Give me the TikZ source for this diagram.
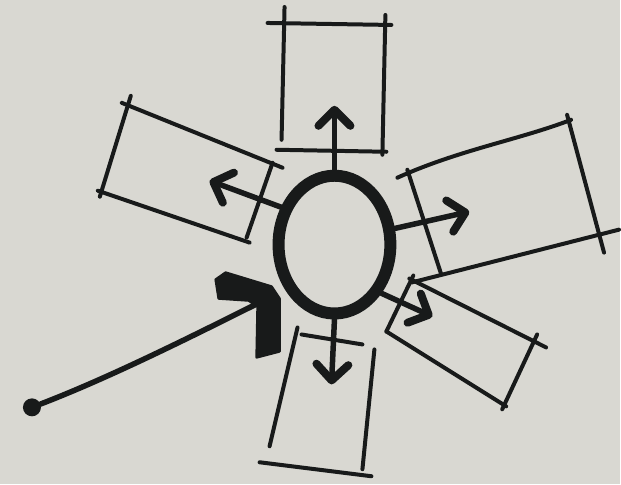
\documentclass[tikz,border=0pt]{standalone}
\usetikzlibrary{arrows.meta,shapes.geometric}
\definecolor{paper}{RGB}{217,216,210}
\definecolor{ink}{RGB}{24,26,26}
\tikzset{
  sketch/.style={draw=ink, line width=4pt, line cap=round, line join=round},
  spoke/.style={draw=ink, line width=5.5pt, line cap=round,
    -{Straight Barb[length=16pt,width=32pt,line width=8pt,round]}},
}
\begin{document}
\begin{tikzpicture}[x=1pt,y=-1pt]
\fill[paper] (0,0) rectangle (621,485);

% box above
\draw[sketch] (268,23) -- (392,25);
\draw[sketch] (285,7) -- (282,140);
\draw[sketch] (386,15) -- (383,155);
\draw[sketch] (277,150) -- (387,152);

% box upper left
\draw[sketch] (122,103) -- (283,168);
\draw[sketch] (131,96) -- (100,197);
\draw[sketch] (98,191) -- (250,243);
\draw[sketch] (273,163) -- (247,238);

% box right
\draw[sketch] (398,178) .. controls (460,150) and (520,140) .. (572,120);
\draw[sketch] (408,170) -- (442,275);
\draw[sketch] (568,115) -- (605,253);
\draw[sketch] (412,283) -- (620,230);

% box lower right
\draw[sketch] (410,279) -- (547,348);
\draw[sketch] (414,276) -- (387,332);
\draw[sketch] (387,332) -- (507,407);
\draw[sketch] (538,335) -- (503,410);

% box below
\draw[sketch] (302,335) -- (363,345);
\draw[sketch] (298,328) -- (270,447);
\draw[sketch] (375,350) -- (363,470);
\draw[sketch] (260,463) -- (372,477);

% centre
\node[draw=ink, ellipse, line width=12pt, minimum width=112pt,
  minimum height=138pt, inner sep=0pt] (core) at (335,245) {};

\coordinate (upTip) at (335,106);
\coordinate (leftTip) at (210,181);
\coordinate (rightTip) at (470,212);
\coordinate (lowTip) at (433,317);
\coordinate (downTip) at (332,385);

\draw[spoke] (core.north) -- (upTip);
\draw[spoke] (core.145) -- (leftTip);
\draw[spoke] (core.15) -- (rightTip);
\draw[spoke] (core.-46) -- (lowTip);
\draw[spoke] (core.south) -- (downTip);

% way in
\node[circle, fill=ink, inner sep=0pt, minimum size=18pt] (src) at (32,408) {};
\coordinate (inEnd) at (266,300);
\draw[draw=ink, line width=5.5pt, line cap=round]
  (src) .. controls (110,378) and (190,338) .. (inEnd);
\filldraw[fill=ink, draw=ink, line width=2.5pt, line join=round]
  (216,280) -- (226,273) -- (272,287) -- (280,299) -- (280,352)
  -- (257,358) -- (258,307) -- (249,301) -- (219,299) -- cycle;
\end{tikzpicture}
\end{document}
